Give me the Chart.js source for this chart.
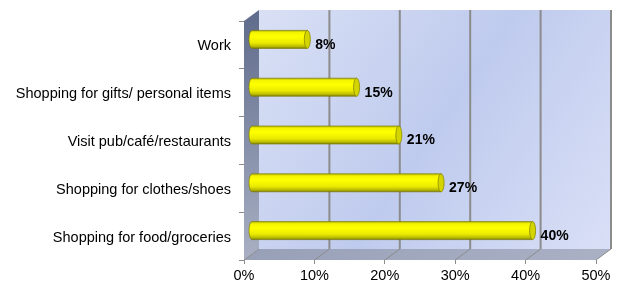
<!DOCTYPE html>
<html>
<head>
<meta charset="utf-8">
<script src="https://cdn.jsdelivr.net/npm/chart.js@4.4.1/dist/chart.umd.min.js"></script>
<style>
  html, body { margin: 0; padding: 0; background: #fff; }
  #wrap { width: 622px; height: 289px; }
</style>
</head>
<body>
<div id="wrap"><canvas id="activityChart" width="622" height="289"></canvas></div>
<script>
const categories = ['Work', 'Shopping for gifts/ personal items', 'Visit pub/café/restaurants', 'Shopping for clothes/shoes', 'Shopping for food/groceries'];
const shares = [8, 15, 21, 27, 40];
const xTicks = [0, 10, 20, 30, 40, 50];

// depth of the 3D box (px)
const DX = 15, DY = 11;
const FONT = '"Liberation Sans", Arial, sans-serif';

const box3d = {
  id: 'box3d',
  beforeDatasetsDraw(chart) {
    const { ctx, chartArea: a, scales: { x } } = chart;
    ctx.save();
    // back wall
    let g = ctx.createLinearGradient(a.left + DX, a.top - DY, a.right + DX, a.bottom - DY);
    g.addColorStop(0, '#d9e0f5');
    g.addColorStop(0.5, '#bfcbee');
    g.addColorStop(1, '#d9dff6');
    ctx.fillStyle = g;
    ctx.fillRect(a.left + DX, a.top - DY, a.right - a.left, a.bottom - a.top);

    // left wall
    g = ctx.createLinearGradient(0, a.top - DY, 0, a.bottom);
    g.addColorStop(0, '#5f6b8b');
    g.addColorStop(1, '#a9b0c4');
    ctx.fillStyle = g;
    ctx.beginPath();
    ctx.moveTo(a.left, a.top);
    ctx.lineTo(a.left + DX, a.top - DY);
    ctx.lineTo(a.left + DX, a.bottom - DY);
    ctx.lineTo(a.left, a.bottom);
    ctx.closePath();
    ctx.fill();

    // floor
    g = ctx.createLinearGradient(a.left, 0, a.right + DX, 0);
    g.addColorStop(0, '#98a0b8');
    g.addColorStop(1, '#aab1c5');
    ctx.fillStyle = g;
    ctx.beginPath();
    ctx.moveTo(a.left, a.bottom);
    ctx.lineTo(a.right, a.bottom);
    ctx.lineTo(a.right + DX, a.bottom - DY);
    ctx.lineTo(a.left + DX, a.bottom - DY);
    ctx.closePath();
    ctx.fill();

    // grid lines on back wall and floor
    ctx.strokeStyle = '#8c8c8c';
    xTicks.forEach(function (t) {
      const px = x.getPixelForValue(t);
      if (t > 0) {
        ctx.lineWidth = 2;
        ctx.beginPath();
        ctx.moveTo(px + DX, a.top - DY);
        ctx.lineTo(px + DX, a.bottom - DY);
        ctx.stroke();
      }
      ctx.lineWidth = 1;
      ctx.beginPath();
      ctx.moveTo(px, a.bottom);
      ctx.lineTo(px + DX, a.bottom - DY);
      ctx.stroke();
    });
    ctx.restore();
  },
  afterDatasetsDraw(chart) {
    const { ctx, scales: { x } } = chart;
    const meta = chart.getDatasetMeta(0);
    ctx.save();
    meta.data.forEach(function (bar, i) {
      const h = bar.height;
      const y0 = bar.y - DY / 2 - h / 2;
      const xs = bar.base + DX / 2;
      const xe = bar.x + 7;
      const rx = 3;

      const g = ctx.createLinearGradient(0, y0, 0, y0 + h);
      g.addColorStop(0, '#b5b500');
      g.addColorStop(0.12, '#f4f400');
      g.addColorStop(0.35, '#ffff00');
      g.addColorStop(0.7, '#eaea00');
      g.addColorStop(0.9, '#b8b800');
      g.addColorStop(1, '#7d7d00');

      // body with rounded left end
      ctx.beginPath();
      ctx.moveTo(xe, y0);
      ctx.lineTo(xs, y0);
      ctx.ellipse(xs, y0 + h / 2, rx, h / 2, 0, -Math.PI / 2, Math.PI / 2, true);
      ctx.lineTo(xe, y0 + h);
      ctx.closePath();
      ctx.fillStyle = g;
      ctx.fill();
      ctx.strokeStyle = 'rgba(120,120,0,0.8)';
      ctx.lineWidth = 0.8;
      ctx.stroke();

      // end cap
      ctx.beginPath();
      ctx.ellipse(xe, y0 + h / 2, rx, h / 2, 0, 0, Math.PI * 2);
      ctx.fillStyle = '#d4d400';
      ctx.fill();
      ctx.strokeStyle = '#8a8a00';
      ctx.stroke();

      // value label
      ctx.fillStyle = '#000';
      ctx.font = 'bold 14px ' + FONT;
      ctx.textAlign = 'left';
      ctx.textBaseline = 'middle';
      ctx.fillText(shares[i] + '%', x.getPixelForValue(shares[i]) + 15, bar.y);
    });
    ctx.restore();
  }
};

new Chart(document.getElementById('activityChart'), {
  type: 'bar',
  data: {
    labels: categories,
    datasets: [{
      data: shares,
      backgroundColor: 'rgba(0,0,0,0)',
      borderWidth: 0,
      barThickness: 18
    }]
  },
  options: {
    indexAxis: 'y',
    responsive: false,
    animation: false,
    layout: { padding: { top: 21, right: 26, bottom: 0, left: 0 } },
    plugins: { legend: { display: false }, tooltip: { enabled: false } },
    scales: {
      x: {
        min: 0,
        max: 50,
        afterFit: function (s) { s.height = 29; },
        ticks: {
          stepSize: 10,
          padding: 3,
          color: '#000',
          font: { family: FONT, size: 14.5 },
          callback: function (v) { return v + '%'; }
        },
        grid: { drawOnChartArea: false, tickLength: 4, color: '#8c8c8c' },
        border: { display: false }
      },
      y: {
        afterFit: function (s) { s.width = 244; },
        ticks: {
          padding: 8,
          labelOffset: 1.5,
          color: '#000',
          font: { family: FONT, size: 14.5 }
        },
        grid: { drawOnChartArea: false, offset: true, tickLength: 5, color: '#8c8c8c' },
        border: { display: false }
      }
    }
  },
  plugins: [box3d]
});
</script>
</body>
</html>
